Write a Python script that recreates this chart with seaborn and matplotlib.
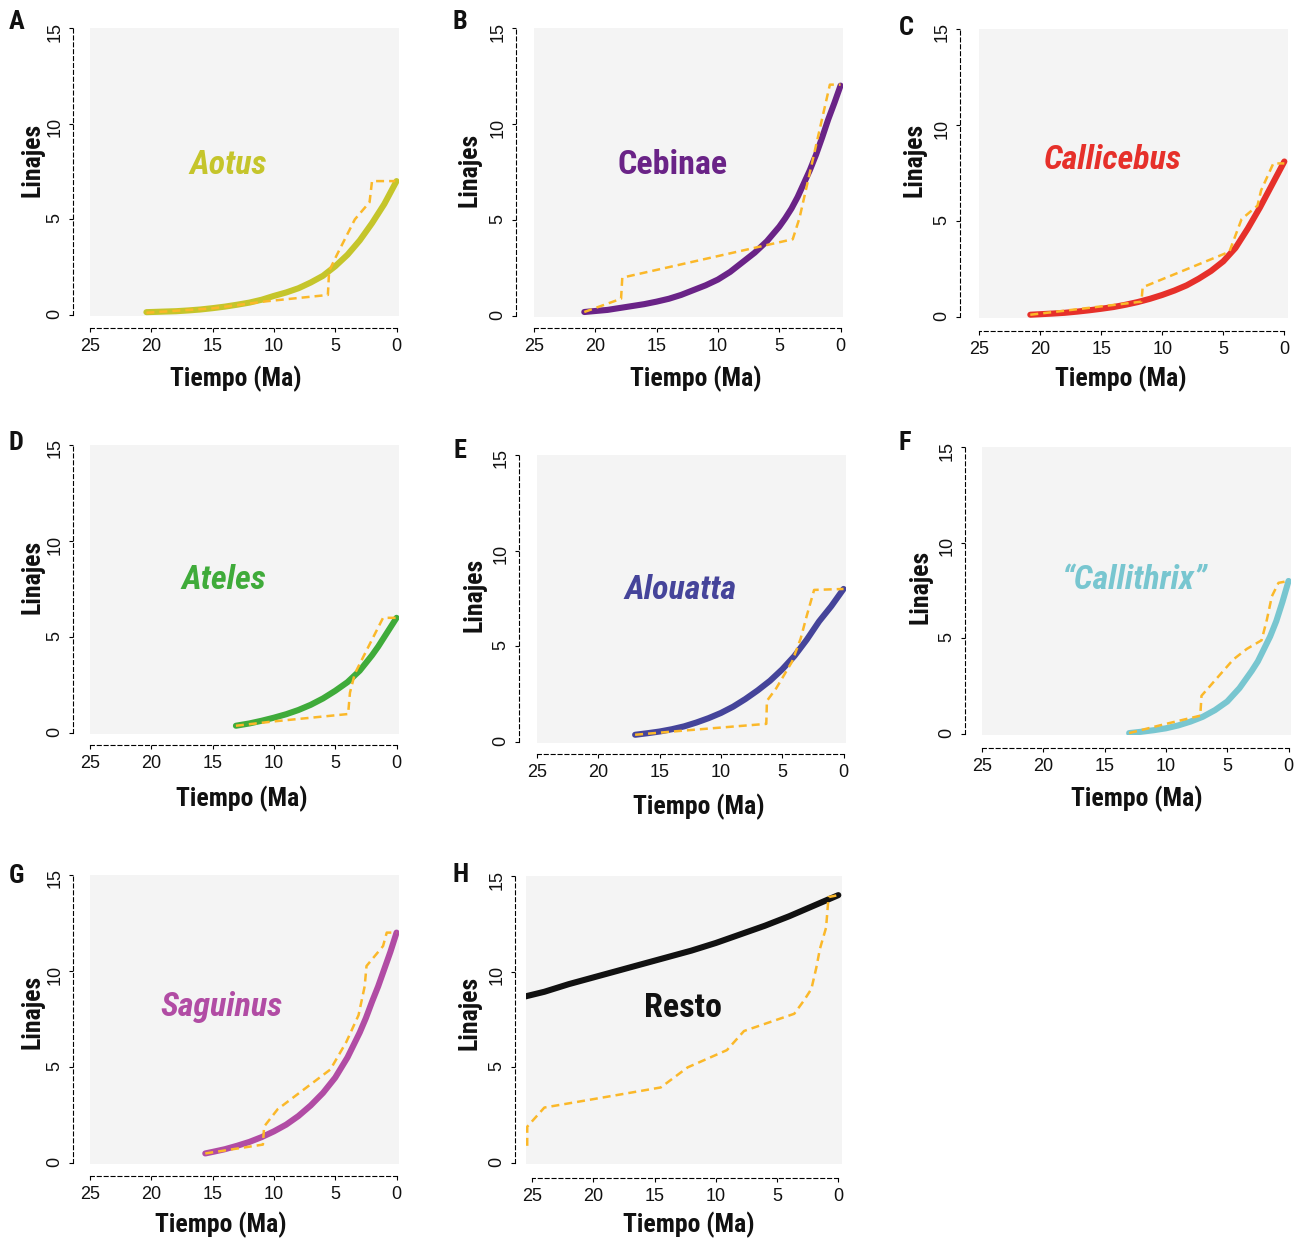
import os
import matplotlib
matplotlib.use("Agg")
import matplotlib.pyplot as plt
import seaborn as sns
from matplotlib import font_manager
from matplotlib.font_manager import FontProperties

# ---------------- data ----------------
# solid curves: fitted lineage numbers (time in Ma before present, lineages)
aotus_fit_t = [20.4, 19, 18, 17, 16, 15, 14, 13, 12, 11, 10, 9, 8, 7, 6, 5, 4, 3, 2, 1.5, 1, 0.5, 0]
aotus_fit_n = [0.15, 0.18, 0.2, 0.24, 0.29, 0.36, 0.44, 0.54, 0.65, 0.8, 1.0, 1.18, 1.4, 1.7, 2.05,
               2.55, 3.15, 3.9, 4.8, 5.3, 5.8, 6.4, 7.0]
cebinae_fit_t = [20.9, 19, 18, 17, 16, 15, 14, 13, 12, 11, 10, 9, 8, 7, 6, 5, 4.5, 4, 3.5, 3, 2.5, 2,
                 1.5, 1, 0.5, 0]
cebinae_fit_n = [0.21, 0.32, 0.42, 0.52, 0.62, 0.75, 0.9, 1.1, 1.35, 1.6, 1.9, 2.3, 2.8, 3.3, 3.9,
                 4.65, 5.1, 5.6, 6.2, 6.9, 7.6, 8.4, 9.3, 10.25, 11.1, 12.0]
callicebus_fit_t = [20.8, 19, 18, 17, 16, 15, 14, 13, 12, 11, 10, 9, 8, 7, 6, 5, 4, 3, 2, 1.5, 1, 0.5, 0]
callicebus_fit_n = [0.12, 0.18, 0.22, 0.28, 0.35, 0.43, 0.52, 0.64, 0.78, 0.95, 1.15, 1.38, 1.65, 2.0,
                    2.4, 2.9, 3.6, 4.6, 5.7, 6.3, 6.9, 7.5, 8.1]
ateles_fit_t = [13.1, 12, 11, 10, 9, 8, 7, 6, 5, 4, 3, 2, 1.5, 1, 0.5, 0]
ateles_fit_n = [0.38, 0.5, 0.64, 0.8, 0.98, 1.2, 1.47, 1.8, 2.2, 2.65, 3.25, 4.05, 4.5, 5.0, 5.5, 6.0]
alouatta_fit_t = [17, 16, 15, 14, 13, 12, 11, 10, 9, 8, 7, 6, 5, 4, 3, 2, 1.5, 1, 0.5, 0]
alouatta_fit_n = [0.38, 0.46, 0.55, 0.67, 0.82, 1.02, 1.25, 1.52, 1.85, 2.25, 2.7, 3.2, 3.8, 4.5,
                  5.35, 6.3, 6.7, 7.1, 7.55, 8.0]
callithrix_fit_t = [13, 12, 11, 10, 9, 8, 7, 6, 5, 4, 3, 2.5, 2, 1.5, 1, 0.5, 0]
callithrix_fit_n = [0.05, 0.12, 0.2, 0.3, 0.45, 0.65, 0.9, 1.25, 1.7, 2.4, 3.3, 3.8, 4.45, 5.1, 5.9,
                    6.9, 8.0]
saguinus_fit_t = [15.6, 15, 14, 13, 12, 11, 10, 9, 8, 7, 6, 5, 4, 3, 2.5, 2, 1.5, 1, 0.5, 0]
saguinus_fit_n = [0.5, 0.58, 0.72, 0.9, 1.1, 1.35, 1.65, 2.0, 2.45, 3.0, 3.65, 4.45, 5.5, 6.8, 7.55,
                  8.4, 9.2, 10.1, 11.0, 12.0]
resto_fit_t = [25.6, 24, 22, 20, 18, 16, 14, 12, 10, 8, 6, 4, 2, 0]
resto_fit_n = [8.7, 8.95, 9.35, 9.7, 10.05, 10.4, 10.75, 11.1, 11.5, 11.95, 12.4, 12.9, 13.45, 14.0]

# dashed curves: observed lineages through time
aotus_ltt_t = [20.4, 15, 10.6, 5.6, 5.5, 4.9, 3.4, 2.2, 2.0, 0.1]
aotus_ltt_n = [0.12, 0.35, 0.72, 1.05, 2.3, 3.1, 5.0, 5.9, 7.0, 7.0]
cebinae_ltt_t = [20.9, 17.9, 17.8, 3.9, 3.35, 0.87, 0.0]
cebinae_ltt_n = [0.21, 0.9, 2.0, 4.0, 5.1, 12.05, 12.05]
callicebus_ltt_t = [20.8, 11.7, 11.6, 4.5, 3.5, 2.2, 1.9, 0.9, 0.0]
callicebus_ltt_n = [0.12, 0.8, 1.55, 3.4, 5.1, 5.8, 6.6, 8.0, 8.0]
ateles_ltt_t = [13.1, 10.1, 3.95, 3.8, 3.4, 1.1, 0.0]
ateles_ltt_n = [0.38, 0.6, 0.99, 2.1, 3.1, 6.0, 6.0]
alouatta_ltt_t = [17, 13, 6.3, 6.25, 5.5, 4.2, 3.5, 3.0, 2.4, 0.0]
alouatta_ltt_n = [0.38, 0.6, 0.95, 2.15, 2.8, 4.2, 5.4, 6.6, 7.95, 8.0]
callithrix_ltt_t = [13, 10.2, 7.2, 7.1, 4.5, 3.4, 2.2, 1.77, 1.36, 0.82, 0.0]
callithrix_ltt_n = [0.05, 0.5, 0.96, 2.0, 3.9, 4.45, 4.9, 5.97, 7.2, 7.9, 8.0]
saguinus_ltt_t = [15.6, 10.9, 10.8, 9.7, 5.4, 4.1, 3.1, 2.6, 2.45, 1.1, 0.8, 0.0]
saguinus_ltt_n = [0.5, 0.96, 1.9, 2.8, 4.87, 6.3, 7.7, 9.2, 10.26, 11.3, 12.0, 12.0]
resto_ltt_t = [25.4, 25.4, 24.0, 19, 14.5, 12.3, 9.1, 7.7, 3.6, 2.8, 2.2, 1.8, 1.5, 1.0, 0.8, 0.0]
resto_ltt_n = [0.9, 1.9, 2.9, 3.45, 3.95, 5.0, 5.9, 6.9, 7.8, 8.5, 9.1, 10.2, 11.2, 12.3, 13.9, 14.0]

panel_letters = ["A", "B", "C", "D", "E", "F", "G", "H"]
panel_names = ["Aotus", "Cebinae", "Callicebus", "Ateles", "Alouatta",
               "\u201cCallithrix\u201d", "Saguinus", "Resto"]
x_ticks = [25, 20, 15, 10, 5, 0]
y_ticks = [0, 5, 10, 15]
x_label = "Tiempo (Ma)"
y_label = "Linajes"

# ---------------- fonts ----------------
sns.set_theme(style="ticks")
names = {f.name for f in font_manager.fontManager.ttflist}
REG = "Liberation Sans" if "Liberation Sans" in names else "DejaVu Sans"
plt.rcParams["font.family"] = [REG, "DejaVu Sans"]

PREF = ["liberationsansnarrow", "arialn", "robotocondensed", "notosans-condensed",
        "opensans_condensed", "opensanscondensed", "opensans-cond", "ptsansnarrow",
        "archivonarrow", "firasanscondensed", "ibmplexsanscondensed", "ubuntucondensed",
        "barlowcondensed"]
BAD = ("semi", "extra", "ultra", "light", "thin", "medium", "black", "mono", "display",
       "serif", "heavy", "book")


def find_condensed(italic):
    best, best_score = None, -1
    for f in font_manager.fontManager.ttflist:
        b = os.path.basename(f.fname).lower()
        if "[" in b or not b.endswith((".ttf", ".otf")):
            continue
        if not any(k in b for k in ("condensed", "narrow", "cond")):
            continue
        if any(k in b for k in BAD):
            continue
        if "bold" not in b:
            continue
        is_it = ("italic" in b) or ("oblique" in b)
        if is_it != italic:
            continue
        score = 1
        for j, p in enumerate(PREF):
            if b.startswith(p):
                score = 100 - j
                break
        if score > best_score:
            best, best_score = f.fname, score
    return best


BOLD_PATH = find_condensed(False)
BOLDIT_PATH = find_condensed(True) or BOLD_PATH


def fp_bold(size, italic=False):
    path = BOLDIT_PATH if italic else BOLD_PATH
    if path:
        return FontProperties(fname=path, size=size)
    return FontProperties(family=REG, weight="bold", style="italic" if italic else "normal",
                          size=size * 0.85)


# ---------------- figure ----------------
W, H = 1304, 1238
fig = plt.figure(figsize=(W / 100, H / 100), dpi=100)
fig.patch.set_facecolor("white")

LTT_COLOR = "#fbb829"
BG = "#f4f4f4"
PX2PT = 0.72

layout = [
    dict(color="#c5c52b", italic=True, rect=(90, 28, 399, 316), ysp=73, xsp=328, xlim=(25.0, -0.2),
         let=(17, 22), tit=(228, 165), ylab=(45, 160), xlab=(236, 366)),
    dict(color="#6a2387", italic=False, rect=(534, 28, 843, 317), ysp=516, xsp=328, xlim=(25.0, -0.2),
         let=(460, 22), tit=(673, 165), ylab=(482, 170), xlab=(696, 366)),
    dict(color="#e6302a", italic=True, rect=(979, 29, 1288, 318), ysp=960, xsp=331, xlim=(24.9, -0.3),
         let=(906, 28), tit=(1113, 160), ylab=(927, 160), xlab=(1121, 366)),
    dict(color="#3fab3a", italic=True, rect=(90, 445, 399, 734), ysp=73, xsp=745, xlim=(25.0, -0.2),
         let=(16, 443), tit=(224, 580), ylab=(45, 577), xlab=(242, 786)),
    dict(color="#45449a", italic=True, rect=(537, 455, 846, 743), ysp=519, xsp=754, xlim=(25.0, -0.2),
         let=(460, 451), tit=(680, 590), ylab=(487, 595), xlab=(699, 794)),
    dict(color="#78c6d0", italic=True, rect=(982, 447, 1291, 735), ysp=965, xsp=748, xlim=(25.0, -0.2),
         let=(905, 443), tit=(1135, 580), ylab=(932, 587), xlab=(1137, 786)),
    dict(color="#b14ca4", italic=True, rect=(90, 875, 399, 1164), ysp=73, xsp=1176, xlim=(25.0, -0.2),
         let=(16, 876), tit=(222, 1007), ylab=(45, 1012), xlab=(221, 1212)),
    dict(color="#111111", italic=False, rect=(526, 876, 842, 1164), ysp=515, xsp=1178, xlim=(25.5, -0.3),
         let=(461, 875), tit=(683, 1008), ylab=(482, 1013), xlab=(689, 1212)),
]

fits = [(aotus_fit_t, aotus_fit_n), (cebinae_fit_t, cebinae_fit_n), (callicebus_fit_t, callicebus_fit_n),
        (ateles_fit_t, ateles_fit_n), (alouatta_fit_t, alouatta_fit_n), (callithrix_fit_t, callithrix_fit_n),
        (saguinus_fit_t, saguinus_fit_n), (resto_fit_t, resto_fit_n)]
ltts = [(aotus_ltt_t, aotus_ltt_n), (cebinae_ltt_t, cebinae_ltt_n), (callicebus_ltt_t, callicebus_ltt_n),
        (ateles_ltt_t, ateles_ltt_n), (alouatta_ltt_t, alouatta_ltt_n), (callithrix_ltt_t, callithrix_ltt_n),
        (saguinus_ltt_t, saguinus_ltt_n), (resto_ltt_t, resto_ltt_n)]

for i, cfg in enumerate(layout):
    L, T, R, B = cfg["rect"]
    ax = fig.add_axes([L / W, 1 - B / H, (R - L) / W, (B - T) / H])
    ax.set_facecolor(BG)
    ft, fn = fits[i]
    lt, ln = ltts[i]
    sns.lineplot(x=ft, y=fn, ax=ax, color=cfg["color"], lw=4.4, sort=False, estimator=None,
                 solid_capstyle="round", solid_joinstyle="round", legend=False)
    sns.lineplot(x=lt, y=ln, ax=ax, color=LTT_COLOR, lw=1.8, sort=False, estimator=None,
                 linestyle=(0, (3.2, 2.0)), legend=False)
    ax.set_xlim(*cfg["xlim"])
    ax.set_ylim(-0.05, 15.0)
    ax.set_xticks(x_ticks)
    ax.set_yticks(y_ticks)
    ax.set_xticklabels([str(v) for v in x_ticks])
    ax.set_yticklabels([str(v) for v in y_ticks])
    for s in ("top", "right"):
        ax.spines[s].set_visible(False)
    ax.spines["left"].set_position(("outward", (L - cfg["ysp"]) * PX2PT))
    ax.spines["bottom"].set_position(("outward", (cfg["xsp"] - B) * PX2PT))
    ax.spines["bottom"].set_bounds(0, 25)
    ax.spines["left"].set_bounds(0, 15)
    for s in ("left", "bottom"):
        ax.spines[s].set_linestyle((0, (3.6, 2.6)))
        ax.spines[s].set_linewidth(0.8)
        ax.spines[s].set_color("black")
    ax.tick_params(axis="both", direction="out", length=3, width=0.8, color="black",
                   labelsize=13, labelcolor="#111111", pad=4)
    ax.tick_params(axis="y", labelrotation=90)
    ax.grid(False)
    ax.set_xlabel(x_label, fontproperties=fp_bold(18.5), color="#111111")
    ax.set_ylabel(y_label, fontproperties=fp_bold(18.5), color="#111111")
    ax.xaxis.set_label_coords(cfg["xlab"][0] / W, 1 - cfg["xlab"][1] / H, transform=fig.transFigure)
    ax.yaxis.set_label_coords(cfg["ylab"][0] / W, 1 - cfg["ylab"][1] / H, transform=fig.transFigure)
    fig.text(cfg["tit"][0] / W, 1 - cfg["tit"][1] / H, panel_names[i], ha="center", va="center",
             color=cfg["color"], fontproperties=fp_bold(24.5, italic=cfg["italic"]))
    fig.text(cfg["let"][0] / W, 1 - cfg["let"][1] / H, panel_letters[i], ha="center", va="center",
             color="#111111", fontproperties=fp_bold(19))

fig.savefig("out.png", dpi=100, facecolor="white")
